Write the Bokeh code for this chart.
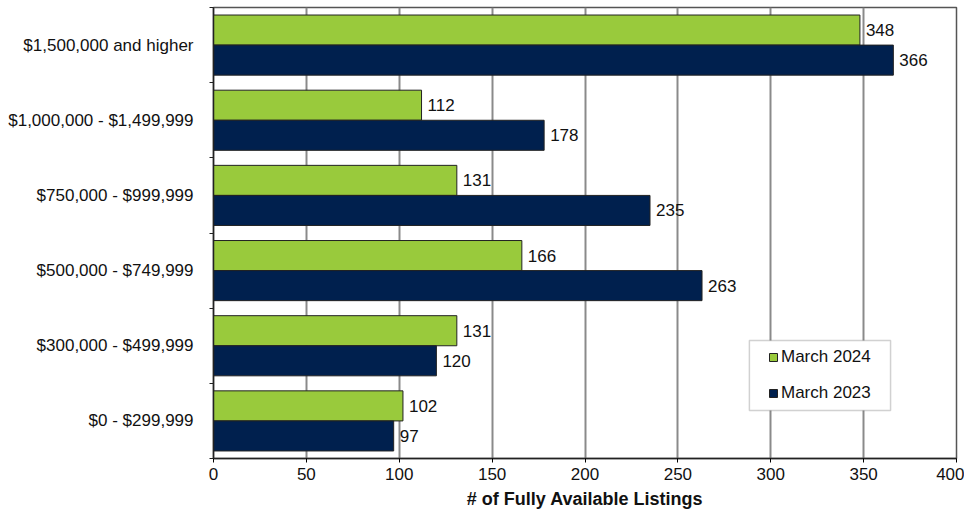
from bokeh.plotting import figure
from bokeh.models import ColumnDataSource, FixedTicker, Legend, LegendItem, Range1d, BoxAnnotation
from bokeh.core.properties import value
from bokeh.embed import file_html
from bokeh.resources import INLINE

categories = ["$0 - $299,999", "$300,000 - $499,999", "$500,000 - $749,999",
              "$750,000 - $999,999", "$1,000,000 - $1,499,999", "$1,500,000 and higher"]
march_2024 = [102, 131, 166, 131, 112, 348]
march_2023 = [97, 120, 263, 235, 178, 366]
x_ticks = [0, 50, 100, 150, 200, 250, 300, 350, 400]
x_title = "# of Fully Available Listings"

GREEN = "#99CA3C"
NAVY = "#00204E"
FONT = "Liberation Sans"
FS = "17px"

pos = [i + 0.5 for i in range(len(categories))]
src24 = ColumnDataSource(dict(y=[p_ + 0.2 for p_ in pos], v=march_2024, t=[str(v) for v in march_2024]))
src23 = ColumnDataSource(dict(y=[p_ - 0.2 for p_ in pos], v=march_2023, t=[str(v) for v in march_2023]))

p = figure(width=964, height=514, output_backend="svg", toolbar_location=None,
           x_range=Range1d(0, 400), y_range=Range1d(0, len(categories)),
           min_border_left=213, min_border_right=8, min_border_top=7, min_border_bottom=56)

b24 = p.hbar(y="y", right="v", left=0, height=0.4, source=src24, fill_color=GREEN,
             line_color="#222222", line_width=1)
b23 = p.hbar(y="y", right="v", left=0, height=0.4, source=src23, fill_color=NAVY,
             line_color="#222222", line_width=1)
p.text(x="v", y="y", text="t", source=src24, x_offset=6, text_baseline="middle",
       text_font_size=FS, text_color="#111111", text_font=value(FONT))
p.text(x="v", y="y", text="t", source=src23, x_offset=6, text_baseline="middle",
       text_font_size=FS, text_color="#111111", text_font=value(FONT))

p.xaxis.ticker = FixedTicker(ticks=x_ticks)
p.xaxis.axis_label = x_title
p.xaxis.axis_label_text_font_style = "bold"
p.xaxis.axis_label_text_font_size = "18px"
p.xaxis.axis_label_text_font = FONT
p.xaxis.axis_label_text_color = "#111111"
p.xaxis.axis_label_standoff = 6
p.xaxis.major_label_text_font_size = FS
p.xaxis.major_label_text_font = FONT
p.xaxis.major_label_text_color = "#111111"
p.xaxis.major_label_standoff = 5
p.xaxis.major_tick_in = 0
p.xaxis.major_tick_out = 4
p.xaxis.minor_tick_line_color = None
p.xaxis.axis_line_color = "#222222"
p.xaxis.axis_line_width = 1.5

p.yaxis.ticker = FixedTicker(ticks=pos, minor_ticks=list(range(len(categories) + 1)))
p.yaxis.major_label_overrides = {pp: c for pp, c in zip(pos, categories)}
p.yaxis.major_tick_line_color = None
p.yaxis.minor_tick_in = 0
p.yaxis.minor_tick_out = 4
p.yaxis.minor_tick_line_color = "#222222"
p.yaxis.major_label_text_font_size = FS
p.yaxis.major_label_text_font = FONT
p.yaxis.major_label_text_color = "#111111"
p.yaxis.major_label_standoff = 14
p.yaxis.axis_line_color = "#222222"
p.yaxis.axis_line_width = 1.5

p.xgrid.ticker = FixedTicker(ticks=x_ticks)
p.xgrid.grid_line_color = "#8a8a8a"
p.xgrid.grid_line_width = 2
p.ygrid.grid_line_color = None
p.outline_line_color = "#555555"
p.outline_line_width = 1.5

# legend frame
p.add_layout(BoxAnnotation(left=288.5, right=364.5, bottom=0.64, top=1.57,
                           fill_color="white", fill_alpha=1,
                           line_color="#666666", line_width=1.5))

legend = Legend(items=[LegendItem(label="March 2024", renderers=[b24]),
                       LegendItem(label="March 2023", renderers=[b23])],
                location=(555, 55), glyph_width=10, glyph_height=10,
                label_text_font_size=FS, label_text_font=FONT, label_standoff=3,
                label_text_color="#111111", label_height=20,
                spacing=16, padding=0, margin=0,
                border_line_color=None, background_fill_alpha=0)
p.add_layout(legend, "center")

open("out.html", "w").write(file_html(p, INLINE))
